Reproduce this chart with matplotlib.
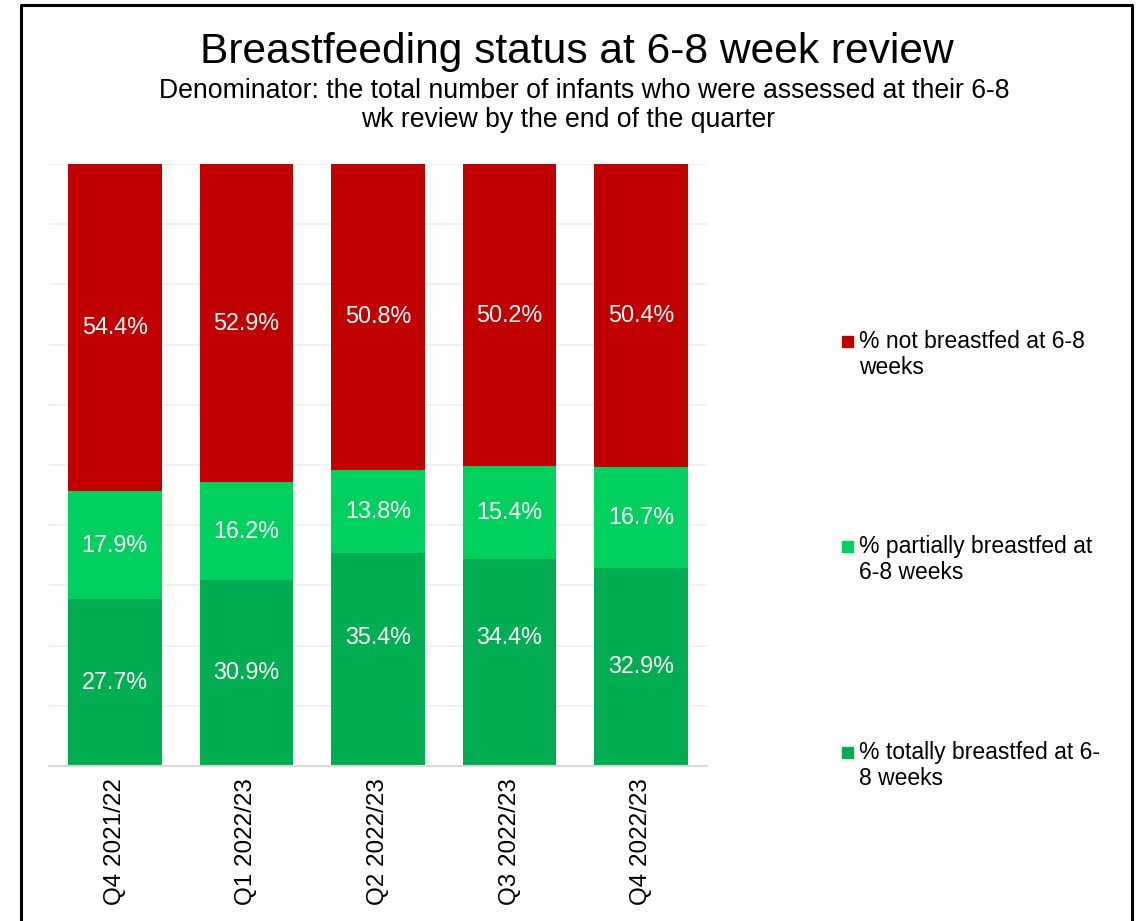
import matplotlib.pyplot as plt
import numpy as np
from matplotlib.lines import Line2D

plt.rcParams['font.family'] = ['Liberation Sans', 'DejaVu Sans']

quarters = ['Q4 2021/22', 'Q1 2022/23', 'Q2 2022/23', 'Q3 2022/23', 'Q4 2022/23']
totally = [27.7, 30.9, 35.4, 34.4, 32.9]
partially = [17.9, 16.2, 13.8, 15.4, 16.7]
not_bf = [54.4, 52.9, 50.8, 50.2, 50.4]

series_names = ['% totally breastfed at 6-\n8 weeks',
                '% partially breastfed at\n6-8 weeks',
                '% not breastfed at 6-8\nweeks']
colors = ['#00AD50', '#00D15E', '#C00000']

# a few labels were nudged by hand in the original (y shift in % units)
label_shift = {(0, 2): 3.7, (0, 3): 4.2}

fig = plt.figure(figsize=(11.45, 9.21), dpi=100)
ax = fig.add_axes([49 / 1145, 1 - 766 / 921, 658 / 1145, 602 / 921])

x = np.arange(len(quarters))
bottom = np.zeros(len(quarters))
for s, (vals, col) in enumerate(zip([totally, partially, not_bf], colors)):
    vals = np.array(vals)
    ax.bar(x, vals, width=0.71, bottom=bottom, color=col, zorder=2)
    for i, v in enumerate(vals):
        yc = bottom[i] + v / 2 + label_shift.get((s, i), 0)
        ax.text(x[i], yc, f'{v:.1f}%', ha='center', va='center',
                color='white', fontsize=16.8, zorder=3)
    bottom += vals

ax.set_xlim(-0.5, len(quarters) - 0.5)
ax.set_ylim(0, 100)
ax.set_yticks(np.arange(0, 101, 10))
ax.yaxis.grid(True, color='#EFEFEF', linewidth=1.2, zorder=0)
ax.set_axisbelow(True)
ax.tick_params(axis='y', left=False, labelleft=False)
ax.tick_params(axis='x', bottom=False, pad=5)
ax.set_xticks(x)
ax.set_xticklabels(quarters, rotation=90, fontsize=17.5)
for sp in ['top', 'left', 'right']:
    ax.spines[sp].set_visible(False)
ax.spines['bottom'].set_color('#D9D9D9')
ax.spines['bottom'].set_linewidth(1.5)

# legend entries, placed like the original's right-hand legend
leg_y = [342, 547, 753]
for s in [2, 1, 0]:
    yy = 1 - leg_y[2 - s] / 921
    fig.patches.append(plt.Rectangle((842 / 1145, yy - 5 / 921), 11 / 1145, 11 / 921,
                                     transform=fig.transFigure, color=colors[s]))
    fig.text(859 / 1145, yy + 12 / 921, series_names[s], fontsize=16.5,
             va='top', ha='left', linespacing=1.15)

fig.text(577 / 1145, 1 - 63 / 921, 'Breastfeeding status at 6-8 week review',
         ha='center', va='baseline', fontsize=30.6)
fig.text(584 / 1145, 1 - 98 / 921,
         'Denominator: the total number of infants who were assessed at their 6-8',
         ha='center', va='baseline', fontsize=19.2)
fig.text(568 / 1145, 1 - 127 / 921, 'wk review by the end of the quarter',
         ha='center', va='baseline', fontsize=19.2)

# chart frame
fx = [21 / 1145, 21 / 1145, 1132 / 1145, 1132 / 1145]
fy = [0, 1 - 5 / 921, 1 - 5 / 921, 0]
fig.lines.append(Line2D(fx, fy, transform=fig.transFigure, color='black', linewidth=2.2))

fig.savefig('out.png', dpi=100)
